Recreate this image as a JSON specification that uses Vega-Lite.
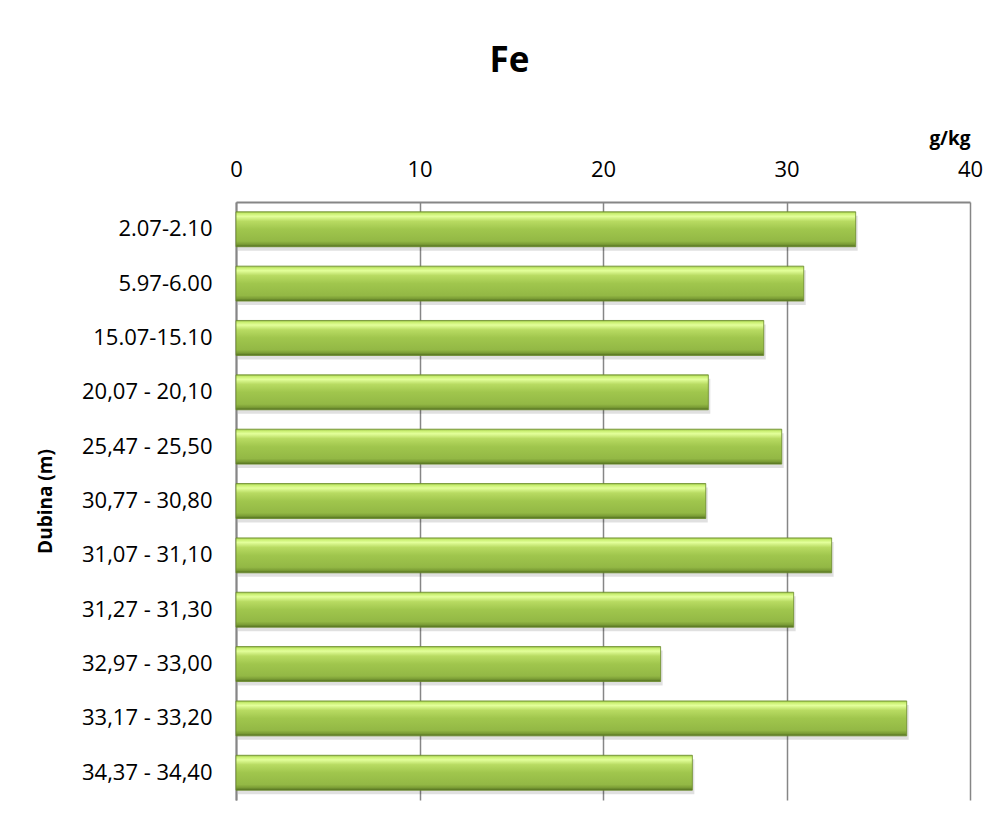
{
  "$schema": "https://vega.github.io/schema/vega-lite/v6.json",
  "autosize": {"type": "none"},
  "width": 734,
  "height": 598,
  "padding": {"left": 236, "top": 202, "right": 31, "bottom": 27},
  "background": "white",
  "config": {
    "view": {"stroke": null},
    "font": "Open Sans"
  },
  "title": {
    "text": "Fe",
    "fontSize": 35,
    "fontWeight": "bold",
    "font": "Open Sans",
    "color": "#000000",
    "anchor": "middle",
    "frame": "bounds",
    "offset": 50,
    "dx": 0
  },
  "data": {
    "values": [
      {"depth": "2.07-2.10", "fe": 33.77},
      {"depth": "5.97-6.00", "fe": 30.94},
      {"depth": "15.07-15.10", "fe": 28.76},
      {"depth": "20,07 - 20,10", "fe": 25.74},
      {"depth": "25,47 - 25,50", "fe": 29.74},
      {"depth": "30,77 - 30,80", "fe": 25.6},
      {"depth": "31,07 - 31,10", "fe": 32.46},
      {"depth": "31,27 - 31,30", "fe": 30.39},
      {"depth": "32,97 - 33,00", "fe": 23.14},
      {"depth": "33,17 - 33,20", "fe": 36.55},
      {"depth": "34,37 - 34,40", "fe": 24.87}
    ]
  },
  "encoding": {
    "y": {
      "field": "depth",
      "type": "nominal",
      "sort": null,
      "scale": {"paddingInner": 0.357, "paddingOuter": 0.18},
      "axis": {
        "title": "Dubina (m)",
        "titleFont": "Open Sans",
        "titleFontSize": 19,
        "titleFontWeight": "bold",
        "titleColor": "#000000",
        "titlePadding": 26,
        "labelFont": "Open Sans",
        "labelFontSize": 22,
        "labelColor": "#000000",
        "labelPadding": 24,
        "ticks": false,
        "domainColor": "#868686",
        "domainWidth": 2,
        "grid": false
      }
    },
    "x": {
      "field": "fe",
      "type": "quantitative",
      "scale": {"domain": [0, 40], "nice": false},
      "axis": {
        "orient": "top",
        "values": [0, 10, 20, 30, 40],
        "title": "g/kg",
        "titleFont": "Open Sans",
        "titleFontSize": 19,
        "titleFontWeight": "bold",
        "titleColor": "#000000",
        "titleAnchor": "end",
        "titleAlign": "right",
        "titlePadding": 10,
        "labelFont": "Open Sans",
        "labelFontSize": 22,
        "labelColor": "#000000",
        "labelPadding": 21,
        "labelFlush": false,
        "ticks": false,
        "domainColor": "#868686",
        "domainWidth": 2,
        "grid": true,
        "gridColor": "#868686",
        "gridWidth": 1.5
      }
    }
  },
  "layer": [
    {
      "mark": {"type": "bar", "color": "#000000", "opacity": 0.12, "yOffset": 4, "xOffset": 2}
    },
    {
      "mark": {
        "type": "bar",
        "stroke": "#6b8c2a",
        "strokeWidth": 0.8,
        "color": {
          "gradient": "linear",
          "x1": 0, "y1": 0, "x2": 0, "y2": 1,
          "stops": [
            {"offset": 0, "color": "#92b844"},
            {"offset": 0.05, "color": "#c9ef70"},
            {"offset": 0.13, "color": "#e3ff9b"},
            {"offset": 0.27, "color": "#b8db62"},
            {"offset": 0.5, "color": "#a0c64d"},
            {"offset": 0.84, "color": "#93b845"},
            {"offset": 0.93, "color": "#7a9c35"},
            {"offset": 1, "color": "#4e6b1e"}
          ]
        }
      }
    }
  ]
}
